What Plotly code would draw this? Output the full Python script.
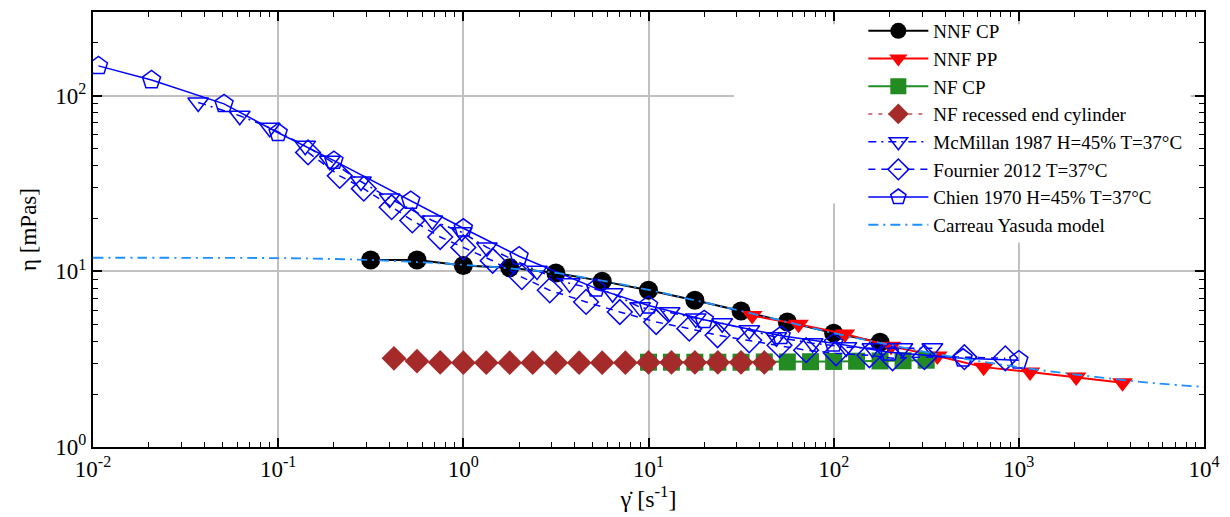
import plotly.graph_objects as go

# ---------------- data ----------------
nnf_cp_x = [0.316, 0.562, 1.0, 1.78, 3.16, 5.62, 10.0, 17.8, 31.6, 56.2, 100, 178]
nnf_cp_y = [11.6, 11.6, 10.8, 10.5, 9.8, 8.8, 7.8, 6.85, 5.95, 5.15, 4.45, 3.95]

nnf_pp_x = [36.3, 64.6, 115, 204, 363, 646, 1150, 2040, 3630]
nnf_pp_y = [5.6, 5.0, 4.4, 3.75, 3.3, 2.85, 2.67, 2.5, 2.32]

nf_cp_x = [10, 13.3, 17.8, 23.7, 31.6, 42.2, 56.2, 75, 100, 133, 178, 237, 316]
nf_cp_y = [3.04, 3.04, 3.04, 3.04, 3.04, 3.05, 3.05, 3.06, 3.07, 3.08, 3.09, 3.1, 3.12]

nf_rec_x = [0.422, 0.562, 0.75, 1.0, 1.33, 1.78, 2.37, 3.16, 4.22, 5.62, 7.5,
            10, 13.3, 17.8, 23.7, 31.6, 42.2]
nf_rec_y = [3.2, 3.08, 3.03, 3.02, 3.02, 3.02, 3.02, 3.02, 3.02, 3.02, 3.02,
            3.03, 3.03, 3.03, 3.03, 3.03, 3.03]

mcmillan_x = [0.037, 0.062, 0.09, 0.14, 0.19, 0.28, 0.4, 0.68, 0.98, 1.34, 2.5, 3.75,
              6.4, 9.0, 13, 18, 25, 35, 49, 77, 117, 162, 235, 341]
mcmillan_y = [91.6, 77, 65.8, 52, 42.7, 32.5, 26, 19.5, 16.7, 13.7, 10.1, 8.55,
              7.5, 6.24, 5.85, 5.4, 5.07, 4.62, 4.22, 3.9, 3.7, 3.65, 3.65, 3.65]

fournier_x = [0.145, 0.215, 0.29, 0.41, 0.53, 0.75, 1.0, 1.44, 2.07, 2.93, 4.6, 7.0,
              11, 16.6, 23.6, 35, 51, 71, 103, 156, 208, 309, 508, 845]
fournier_y = [47.6, 35, 29.6, 23.2, 19.5, 15.7, 13.7, 11.5, 9.28, 7.8, 6.7, 5.87,
              5.15, 4.72, 4.33, 4.05, 3.8, 3.56, 3.42, 3.33, 3.2, 3.25, 3.25, 3.2]

chien_x = [0.0107, 0.0207, 0.051, 0.1, 0.2, 0.52, 1.0, 2.0, 5.2, 10, 20, 52, 100, 200, 500, 1000]
chien_y = [148, 123, 90, 61.6, 42.7, 25.3, 17.6, 12.2, 8.0, 6.4, 5.3, 4.3, 3.9, 3.46, 3.2, 3.12]

cy_x = [0.01, 0.0316, 0.1, 0.178, 0.316, 0.562, 1.0, 1.78, 3.16, 5.62, 10, 17.8, 31.6,
        56.2, 100, 178, 316, 562, 1000, 1780, 3160, 5620, 10000]
cy_y = [11.96, 11.95, 11.9, 11.8, 11.6, 11.3, 10.9, 10.4, 9.8, 8.85, 7.85, 6.85, 5.95,
        5.15, 4.45, 3.92, 3.47, 3.12, 2.85, 2.63, 2.45, 2.3, 2.2]

x_tickvals = [0.01, 0.1, 1, 10, 100, 1000, 10000]
x_ticktext = ["10<sup>-2</sup>", "10<sup>-1</sup>", "10<sup>0</sup>", "10<sup>1</sup>",
              "10<sup>2</sup>", "10<sup>3</sup>", "10<sup>4</sup>"]
y_tickvals = [1, 10, 100]
y_ticktext = ["10<sup>0</sup>", "10<sup>1</sup>", "10<sup>2</sup>"]

FONT = "Liberation Serif"
BLUE = "#0000ff"

fig = go.Figure()

fig.add_trace(go.Scatter(x=nnf_cp_x, y=nnf_cp_y, name="NNF CP", mode="lines+markers",
                         line=dict(color="black", width=2),
                         marker=dict(symbol="circle", size=19, color="black")))
fig.add_trace(go.Scatter(x=nnf_pp_x, y=nnf_pp_y, name="NNF PP", mode="lines+markers",
                         line=dict(color="#ff0000", width=2),
                         marker=dict(symbol="triangle-down", size=18, color="#ff0000")))
fig.add_trace(go.Scatter(x=nf_cp_x, y=nf_cp_y, name="NF CP", mode="lines+markers",
                         line=dict(color="#228b22", width=2),
                         marker=dict(symbol="square", size=17, color="#228b22")))
fig.add_trace(go.Scatter(x=nf_rec_x, y=nf_rec_y, name="NF recessed end cylinder",
                         mode="lines+markers",
                         line=dict(color="#c05050", width=1.5, dash="4px,6px"),
                         marker=dict(symbol="diamond", size=19, color="#a52a2a")))
fig.add_trace(go.Scatter(x=mcmillan_x, y=mcmillan_y, name="McMillan 1987 H=45% T=37°C",
                         mode="lines+markers",
                         line=dict(color=BLUE, width=1.5, dash="8px,5px,2px,5px"),
                         marker=dict(symbol="triangle-down-open", size=18, color=BLUE,
                                     line=dict(width=1.5, color=BLUE))))
fig.add_trace(go.Scatter(x=fournier_x, y=fournier_y, name="Fournier 2012 T=37°C",
                         mode="lines+markers",
                         line=dict(color=BLUE, width=1.5, dash="7px,6px"),
                         marker=dict(symbol="diamond-open", size=19, color=BLUE,
                                     line=dict(width=1.5, color=BLUE))))
fig.add_trace(go.Scatter(x=chien_x, y=chien_y, name="Chien 1970 H=45% T=37°C",
                         mode="lines+markers",
                         line=dict(color=BLUE, width=1.5),
                         marker=dict(symbol="pentagon-open", size=19, color=BLUE,
                                     line=dict(width=1.5, color=BLUE))))
fig.add_trace(go.Scatter(x=cy_x, y=cy_y, name="Carreau Yasuda model", mode="lines",
                         line=dict(color="#1e90ff", width=1.8, dash="10px,5px,2px,5px",
                                   shape="spline")))

axis_common = dict(
    type="log", showline=True, linecolor="black", linewidth=2, mirror="allticks",
    ticks="inside", ticklen=9, tickwidth=1.5, tickcolor="black",
    showgrid=True, gridcolor="#c0c0c0", gridwidth=1.5, zeroline=False,
    tickfont=dict(family=FONT, size=23, color="black"),
    minor=dict(ticks="inside", ticklen=5, tickwidth=1.2, tickcolor="black",
               dtick="D1", showgrid=False),
)

fig.update_xaxes(**axis_common, range=[-2, 4], tickvals=x_tickvals, ticktext=x_ticktext,
                 title=dict(text="\u03b3\u0307 [s<sup>-1</sup>]",
                            font=dict(family=FONT, size=24, color="black"), standoff=2))
fig.update_yaxes(**axis_common, range=[0, 2.4771], tickvals=y_tickvals, ticktext=y_ticktext,
                 title=dict(text="\u03b7 [mPas]",
                            font=dict(family=FONT, size=23, color="black"), standoff=12))

# white backing behind the legend (hides gridlines there, as in the reference)
fig.add_shape(type="rect", xref="paper", yref="paper", x0=0.577, x1=0.988, y0=0.56, y1=0.972,
              fillcolor="white", line=dict(width=0), layer="above")
fig.add_shape(type="rect", xref="paper", yref="paper", x0=0.75, x1=0.988, y0=0.47, y1=0.6,
              fillcolor="white", line=dict(width=0), layer="above")

fig.update_layout(
    width=1230, height=517,
    margin=dict(l=93, r=25, t=10, b=70),
    paper_bgcolor="white", plot_bgcolor="white",
    font=dict(family=FONT, color="black"),
    legend=dict(x=0.985, y=1.0, xanchor="right", yanchor="top",
                bgcolor="rgba(0,0,0,0)", borderwidth=0,
                font=dict(family=FONT, size=19, color="black"),
                itemwidth=60, tracegroupgap=0),
)

fig.write_html("out.html", post_script="document.body.style.margin='0px';",
               config={"displayModeBar": False})
